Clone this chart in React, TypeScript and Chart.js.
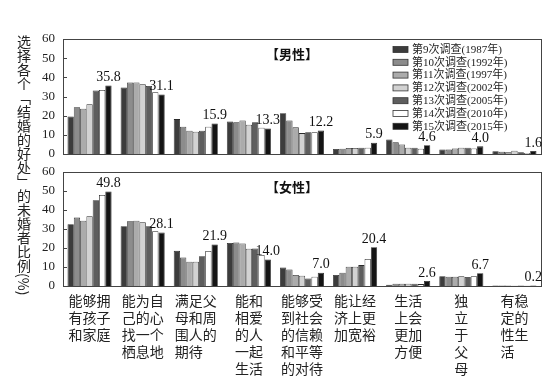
import React, { useEffect, useRef } from "react";
import { Chart, registerables } from "chart.js";

Chart.register(...registerables);

const categoryLabels: string[][] = [
  ["能够拥", "有孩子", "和家庭"],
  ["能为自", "己的心", "找一个", "栖息地"],
  ["满足父", "母和周", "围人的", "期待　"],
  ["能和", "相爱", "的人", "一起", "生活"],
  ["能够受", "到社会", "的信赖", "和平等", "的对待"],
  ["能让经", "济上更", "加宽裕"],
  ["生活", "上会", "更加", "方便"],
  ["独", "立", "于", "父", "母"],
  ["有稳", "定的", "性生", "活　"],
];

const seriesLabels = [
  "第9次调查(1987年)",
  "第10次调查(1992年)",
  "第11次调查(1997年)",
  "第12次调查(2002年)",
  "第13次调查(2005年)",
  "第14次调查(2010年)",
  "第15次调查(2015年)",
];

const seriesColors = ["#3c3c3c", "#8c8c8c", "#ababab", "#d2d2d2", "#5e5e5e", "#ffffff", "#141414"];

const yTicks = [0, 10, 20, 30, 40, 50, 60];

// male (男性), one array per survey
const male9 = [19.6, 34.7, 18.2, 17.0, 21.3, 2.6, 7.6, 2.4, 1.4];
const male10 = [24.4, 37.3, 14.2, 16.6, 17.5, 2.8, 6.1, 2.3, 1.2];
const male11 = [23.6, 37.3, 12.1, 17.5, 13.9, 3.1, 5.0, 2.9, 0.9];
const male12 = [26.0, 36.4, 11.6, 15.3, 10.9, 3.1, 3.3, 3.3, 1.7];
const male13 = [33.1, 35.5, 12.1, 16.6, 11.4, 3.3, 3.3, 3.3, 0.9];
const male14 = [33.4, 32.2, 14.2, 13.7, 11.4, 3.3, 2.8, 2.9, 0.5];
const male15 = [35.8, 31.1, 15.9, 13.3, 12.2, 5.9, 4.6, 4.0, 1.6];

// female (女性)
const female9 = [32.5, 31.5, 18.5, 22.6, 9.8, 5.8, 0.7, 5.1, 0.2];
const female10 = [36.0, 34.1, 15.0, 22.9, 8.7, 7.0, 1.2, 4.9, 0.3];
const female11 = [34.4, 34.4, 12.8, 22.4, 5.8, 10.1, 1.2, 4.9, 0.2];
const female12 = [36.7, 33.6, 12.8, 19.6, 5.4, 10.1, 1.2, 5.1, 0.1];
const female13 = [45.1, 31.5, 15.7, 19.8, 4.0, 11.0, 1.2, 4.7, 0.2];
const female14 = [47.9, 28.8, 18.4, 16.3, 4.9, 14.2, 1.0, 5.1, 0.1];
const female15 = [49.8, 28.1, 21.9, 14.0, 7.0, 20.4, 2.6, 6.7, 0.2];

const maleSeries = [male9, male10, male11, male12, male13, male14, male15];
const femaleSeries = [female9, female10, female11, female12, female13, female14, female15];

const SERIF = "'Liberation Serif', 'Noto Sans CJK SC', serif";
const CJK = "'Noto Sans CJK SC', sans-serif";
const INK = "#222";

function buildConfig(
  series: number[][],
  title: string,
  o: { padTop: number; padBottom: number; showX: boolean; xHeight: number; legend: boolean }
): any {
  const framePlugin = {
    id: "frame",
    afterDatasetsDraw(chart: any) {
      const { ctx, chartArea: a } = chart;
      const ys = chart.scales.y;
      ctx.save();
      ctx.strokeStyle = "#444";
      ctx.lineWidth = 1;
      ctx.strokeRect(Math.round(a.left) + 0.5, Math.round(a.top) + 0.5, Math.round(a.right - a.left), Math.round(a.bottom - a.top));
      yTicks.forEach((v) => {
        const y = Math.round(ys.getPixelForValue(v)) + 0.5;
        ctx.beginPath();
        ctx.moveTo(a.left, y);
        ctx.lineTo(a.left + 4, y);
        ctx.stroke();
      });
      // value labels for last survey
      const meta = chart.getDatasetMeta(series.length - 1);
      const last = series[series.length - 1];
      ctx.fillStyle = "#111";
      ctx.font = `14px ${SERIF}`;
      ctx.textAlign = "center";
      ctx.textBaseline = "bottom";
      meta.data.forEach((bar: any, i: number) => {
        ctx.fillText(last[i].toFixed(1), bar.x, bar.y - 1);
      });
      // panel title
      ctx.font = `bold 13px ${CJK}`;
      ctx.textAlign = "left";
      ctx.textBaseline = "middle";
      ctx.fillStyle = "#111";
      ctx.fillText(title, 266, a.top + 15);
      // legend
      if (o.legend) {
        ctx.font = `11px ${SERIF}`;
        seriesLabels.forEach((lab, i) => {
          const y = 49.5 + i * 12.8;
          ctx.fillStyle = seriesColors[i];
          ctx.fillRect(393, y - 3, 15, 6);
          ctx.strokeStyle = "#333";
          ctx.lineWidth = 0.8;
          ctx.strokeRect(393, y - 3, 15, 6);
          ctx.fillStyle = INK;
          ctx.fillText(lab, 412, y + 0.5);
        });
      }
      ctx.restore();
    },
  };

  return {
    type: "bar",
    data: {
      labels: categoryLabels,
      datasets: series.map((v, i) => ({
        label: seriesLabels[i],
        data: v,
        backgroundColor: seriesColors[i],
        borderColor: "#2a2a2a",
        borderWidth: 0.8,
        barPercentage: 1,
        categoryPercentage: 0.83,
      })),
    },
    options: {
      animation: false,
      responsive: false,
      maintainAspectRatio: false,
      layout: { padding: { left: 0, right: 3, top: o.padTop, bottom: o.padBottom } },
      plugins: { legend: { display: false }, tooltip: { enabled: false } },
      scales: {
        x: {
          display: o.showX,
          grid: { display: false, drawTicks: false },
          border: { display: false },
          ticks: {
            autoSkip: false,
            maxRotation: 0,
            minRotation: 0,
            padding: 6,
            color: INK,
            font: { family: CJK, size: 14, lineHeight: 1.22 },
          },
          afterFit: (s: any) => {
            s.height = o.xHeight;
            s.paddingLeft = 0;
            s.paddingRight = 0;
          },
        },
        y: {
          min: 0,
          max: 60,
          afterBuildTicks: (s: any) => {
            s.ticks = yTicks.map((v) => ({ value: v }));
          },
          ticks: { padding: 8, color: INK, font: { family: SERIF, size: 13 } },
          grid: { display: false, drawTicks: false },
          border: { display: false },
          afterFit: (s: any) => {
            s.width = 63;
            s.paddingTop = 0;
            s.paddingBottom = 0;
          },
        },
      },
    },
    plugins: [framePlugin],
  };
}

export default function App() {
  const topRef = useRef<HTMLCanvasElement | null>(null);
  const botRef = useRef<HTMLCanvasElement | null>(null);

  useEffect(() => {
    const c1 = new Chart(
      topRef.current as HTMLCanvasElement,
      buildConfig(maleSeries, "【男性】", { padTop: 39, padBottom: 11, showX: false, xHeight: 0, legend: true })
    );
    const c2 = new Chart(
      botRef.current as HTMLCanvasElement,
      buildConfig(femaleSeries, "【女性】", { padTop: 12, padBottom: 0, showX: true, xHeight: 95, legend: false })
    );
    return () => {
      c1.destroy();
      c2.destroy();
    };
  }, []);

  return (
    <div style={{ position: "absolute", left: 0, top: 0, width: 544, height: 381, background: "#fff", overflow: "hidden" }}>
      <canvas ref={topRef} width={544} height={165} style={{ position: "absolute", left: 0, top: 0, width: 544, height: 165 }} />
      <canvas ref={botRef} width={544} height={221} style={{ position: "absolute", left: 0, top: 160, width: 544, height: 221 }} />
      <div
        style={{
          position: "absolute",
          left: 15,
          top: 35,
          writingMode: "vertical-rl",
          fontFamily: CJK,
          fontSize: 14,
          lineHeight: "18px",
          color: INK,
          whiteSpace: "nowrap",
        }}
      >
        选择各个「结婚的好处」的未婚者比例(%)
      </div>
    </div>
  );
}
